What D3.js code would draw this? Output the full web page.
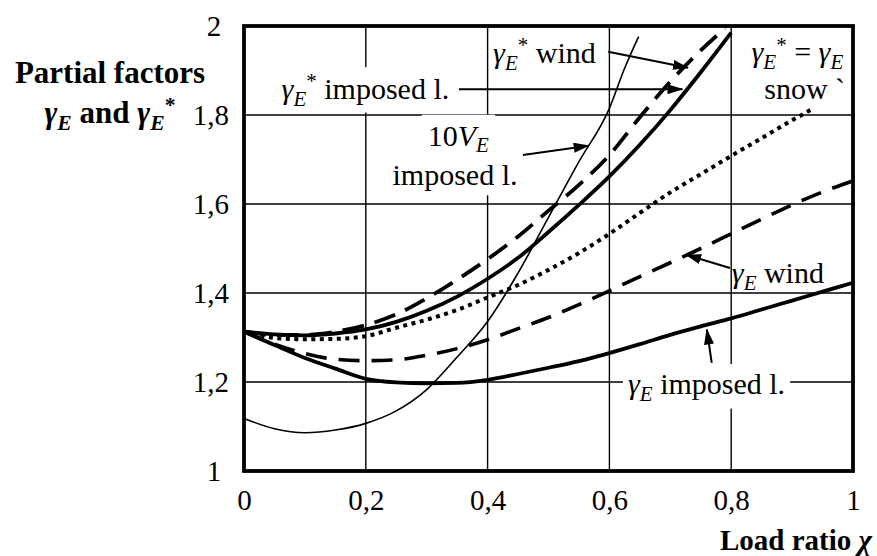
<!DOCTYPE html>
<html><head><meta charset="utf-8">
<script src="https://cdn.jsdelivr.net/npm/d3@7/dist/d3.min.js"></script>
<style>
html,body{margin:0;padding:0;background:#fff;}
svg{display:block;}
text{font-family:"Liberation Serif","Times New Roman",serif;fill:#000;}
</style></head>
<body>
<svg id="chart" width="877" height="556"></svg>
<script>
// ---------------- data ----------------
const xTicks = [0, 0.2, 0.4, 0.6, 0.8, 1];
const yTicks = [1, 1.2, 1.4, 1.6, 1.8, 2];

// gamma_E* imposed load (thick solid)
const chiStarImposed = [0,0.05,0.1,0.15,0.2,0.25,0.3,0.35,0.4,0.45,0.5,0.55,0.6,0.65,0.7,0.75,0.8];
const gammaStarImposed = [1.313,1.307,1.305,1.309,1.318,1.335,1.360,1.392,1.432,1.479,1.537,1.598,1.662,1.733,1.811,1.896,1.985];

// gamma_E* wind (thick dashed)
const chiStarWind = [0,0.05,0.1,0.15,0.2,0.25,0.3,0.35,0.4,0.45,0.5,0.55,0.6,0.65,0.7,0.75,0.79];
const gammaStarWind = [1.313,1.306,1.306,1.313,1.328,1.352,1.388,1.430,1.476,1.527,1.585,1.643,1.710,1.795,1.875,1.945,1.995];

// gamma_E* = gamma_E snow (dotted)
const chiSnow = [0,0.05,0.1,0.15,0.2,0.25,0.3,0.35,0.4,0.45,0.5,0.55,0.6,0.65,0.7,0.75,0.8,0.85,0.9,0.93];
const gammaSnow = [1.313,1.299,1.296,1.297,1.303,1.322,1.340,1.362,1.390,1.418,1.452,1.490,1.533,1.580,1.626,1.667,1.708,1.748,1.788,1.811];

// gamma_E wind (dashed)
const chiWind = [0,0.05,0.1,0.15,0.2,0.25,0.3,0.35,0.4,0.45,0.5,0.55,0.6,0.65,0.7,0.75,0.8,0.85,0.9,0.95,1];
const gammaWind = [1.313,1.285,1.264,1.251,1.248,1.250,1.260,1.275,1.295,1.320,1.345,1.374,1.405,1.437,1.468,1.500,1.533,1.566,1.598,1.627,1.652];

// gamma_E imposed load (thick solid)
const chiImposed = [0,0.05,0.1,0.15,0.2,0.25,0.3,0.35,0.4,0.45,0.5,0.55,0.6,0.65,0.7,0.75,0.8,0.85,0.9,0.95,1];
const gammaImposed = [1.313,1.283,1.254,1.230,1.207,1.199,1.197,1.198,1.205,1.218,1.232,1.247,1.265,1.285,1.306,1.325,1.343,1.363,1.383,1.403,1.423];

// 10 V_E imposed load (thin solid)
const chiV = [0,0.05,0.1,0.15,0.2,0.25,0.3,0.35,0.4,0.45,0.5,0.55,0.6,0.625,0.648];
const tenV = [1.118,1.095,1.086,1.092,1.107,1.135,1.183,1.256,1.336,1.445,1.570,1.695,1.815,1.905,1.976];

// ---------------- layout ----------------
const FS = 29;      // tick labels
const FA = 30;      // annotations
const FT = 31;      // axis titles
const svg = d3.select("#chart");
const x = d3.scaleLinear().domain([0, 1]).range([244, 853]);
const y = d3.scaleLinear().domain([1, 2]).range([471, 26]);
const fmt = d => Number.isInteger(d) ? String(d) : d.toFixed(1).replace(".", ",");

const defs = svg.append("defs");
defs.append("marker").attr("id", "ah")
  .attr("viewBox", "0 0 16 10").attr("refX", 15).attr("refY", 5)
  .attr("markerWidth", 16).attr("markerHeight", 10)
  .attr("markerUnits", "userSpaceOnUse").attr("orient", "auto")
  .append("path").attr("d", "M0,0 L16,5 L0,10 Z").attr("fill", "#000");

// grid
const grid = svg.append("g");
grid.selectAll("line.v").data(xTicks.slice(1, -1)).join("line")
  .attr("x1", d => x(d)).attr("x2", d => x(d)).attr("y1", y(1)).attr("y2", y(2))
  .attr("stroke", "#000").attr("stroke-width", 1.4);
grid.selectAll("line.h").data(yTicks.slice(1, -1)).join("line")
  .attr("y1", d => y(d)).attr("y2", d => y(d)).attr("x1", x(0)).attr("x2", x(1))
  .attr("stroke", "#000").attr("stroke-width", 1.4);

const bgLayer = svg.append("g");
const curveLayer = svg.append("g");
const annLayer = svg.append("g");

// axes
const xAxis = svg.append("g").attr("transform", `translate(0,${y(1)})`)
  .call(d3.axisBottom(x).tickValues(xTicks).tickSize(0).tickPadding(18).tickFormat(fmt));
const yAxis = svg.append("g").attr("transform", `translate(${x(0)},0)`)
  .call(d3.axisLeft(y).tickValues(yTicks).tickSize(0).tickPadding(15).tickFormat(fmt));
[xAxis, yAxis].forEach(a => {
  a.select(".domain").remove();
  a.selectAll("text").attr("font-size", FS).attr("font-family", '"Liberation Serif","Times New Roman",serif').attr("fill", "#000");
});
yAxis.selectAll(".tick text").filter(d => Number.isInteger(d))
  .attr("text-anchor", "middle").attr("x", -30);

// curves
const line = d3.line().x(d => x(d[0])).y(d => y(d[1])).curve(d3.curveMonotoneX);
const zip = (a, b) => a.map((v, i) => [v, b[i]]);
const series = [
  { pts: zip(chiV, tenV), w: 1.6, dash: null },
  { pts: zip(chiWind, gammaWind), w: 3.6, dash: "21,12" },
  { pts: zip(chiSnow, gammaSnow), w: 4, dash: "4,4.5" },
  { pts: zip(chiImposed, gammaImposed), w: 3.8, dash: null },
  { pts: zip(chiStarWind, gammaStarWind), w: 3.8, dash: "22,11" },
  { pts: zip(chiStarImposed, gammaStarImposed), w: 3.8, dash: null },
];
series.forEach(s => {
  curveLayer.append("path").attr("d", line(s.pts)).attr("fill", "none")
    .attr("stroke", "#000").attr("stroke-width", s.w)
    .attr("stroke-dasharray", s.dash).attr("stroke-linejoin", "round");
});

// frame
svg.append("rect").attr("x", x(0)).attr("y", y(2)).attr("width", x(1) - x(0)).attr("height", y(1) - y(2))
  .attr("fill", "none").attr("stroke", "#000").attr("stroke-width", 3.8);

// rich text helper
function rich(parent, px, py, segs, anchor, opts = {}) {
  const size = opts.size || FA;
  const t = parent.append("text").attr("x", px).attr("y", py)
    .attr("text-anchor", anchor).attr("font-size", size)
    .attr("font-weight", opts.bold ? "bold" : "normal");
  let cur = 0;
  segs.forEach(s => {
    const off = s.sub ? 0.22 * size : s.sup ? -0.36 * size : 0;
    const ts = t.append("tspan").attr("dy", off - cur).text(s.t);
    if (s.sub || s.sup) ts.attr("font-size", 0.7 * size);
    if (s.it) ts.attr("font-style", "italic");
    cur = off;
  });
  return t;
}
function bg(t, pad) {
  const b = t.node().getBBox();
  bgLayer.append("rect").attr("x", b.x - pad).attr("y", b.y - pad + 2)
    .attr("width", b.width + 2 * pad).attr("height", b.height + 2 * pad - 4).attr("fill", "#fff");
}
const G = [{ t: "γ", it: true }, { t: "E", it: true, sub: true }];
const GS = [{ t: "γ", it: true }, { t: "E", it: true, sub: true }, { t: "*", sup: true }];

// annotation positions (data units)
rich(annLayer, x(0.409), y(1.917), [...GS, { t: " wind" }], "start");
const t2 = rich(annLayer, x(0.337), y(1.836), [...GS, { t: " imposed l." }], "end");
bg(t2, 4);
const t3 = rich(annLayer, x(0.352), y(1.731), [{ t: "10" }, { t: "V", it: true }, { t: "E", it: true, sub: true }], "middle");
const t4 = rich(annLayer, x(0.3465), y(1.642), [{ t: "imposed l." }], "middle");
bg(t3, 6); bg(t4, 6);
rich(annLayer, x(0.984), y(1.918), [...GS, { t: " = " }, ...G], "end");
rich(annLayer, x(0.987), y(1.836), [{ t: "snow `" }], "end");
rich(annLayer, x(0.801), y(1.4225), [...G, { t: " wind" }], "start");
const t8 = rich(annLayer, x(0.6305), y(1.173), [...G, { t: " imposed l." }], "start");
bg(t8, 5);

// arrows [fromChi, fromGamma, toChi, toGamma]
const arrows = [
  [0.598, 1.942, 0.729, 1.906],
  [0.353, 1.858, 0.720, 1.858],
  [0.458, 1.710, 0.566, 1.731],
  [0.798, 1.456, 0.726, 1.486],
  [0.768, 1.243, 0.760, 1.318],
];
annLayer.selectAll("line.arrow").data(arrows).join("line")
  .attr("x1", d => x(d[0])).attr("y1", d => y(d[1]))
  .attr("x2", d => x(d[2])).attr("y2", d => y(d[3]))
  .attr("stroke", "#000").attr("stroke-width", 2).attr("marker-end", "url(#ah)");

// axis titles
const yt = svg.append("g");
yt.append("text").attr("x", 110).attr("y", 83).attr("text-anchor", "middle")
  .attr("font-size", FT).attr("font-weight", "bold").text("Partial factors");
rich(yt, 110, 123, [{ t: "γ", it: true }, { t: "E", it: true, sub: true }, { t: " and " },
  { t: "γ", it: true }, { t: "E", it: true, sub: true }, { t: "*", sup: true }], "middle", { bold: true, size: FT });
rich(svg, 872, 550, [{ t: "Load ratio " }, { t: "χ", it: true }], "end", { bold: true, size: 29 });
</script>
</body></html>
